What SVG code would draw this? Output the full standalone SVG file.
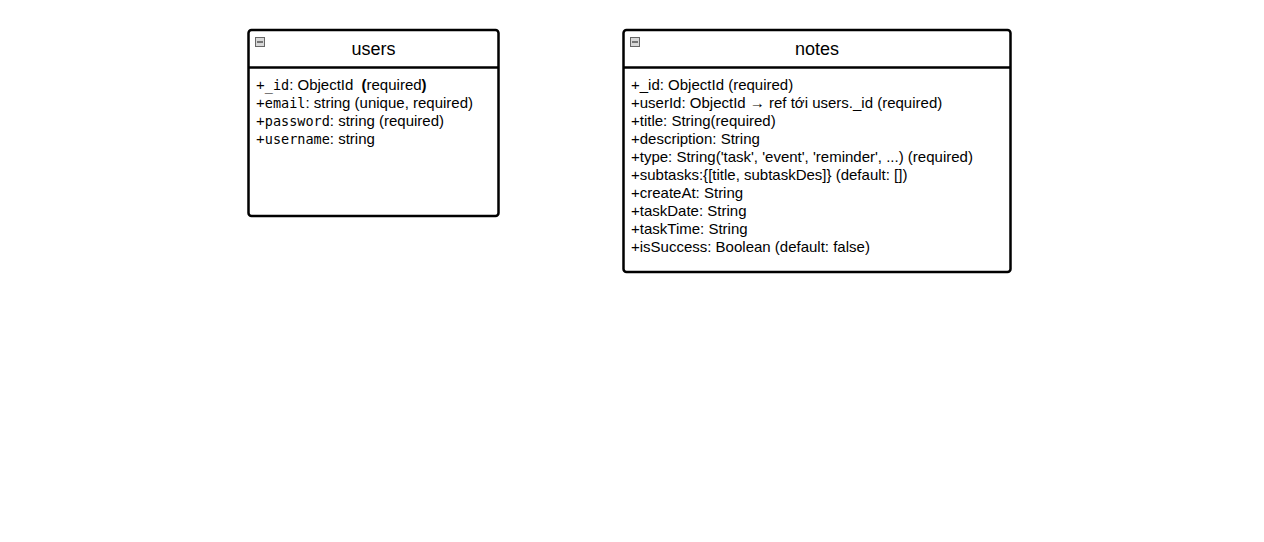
<svg xmlns="http://www.w3.org/2000/svg" width="1264" height="542" viewBox="0 0 1264 542">
<style>
.box{fill:#fff;stroke:#000;stroke-width:2.5}
.sep{stroke:#000;stroke-width:2.5}
.title{font-family:"Liberation Sans",Arial,sans-serif;font-size:18px;text-anchor:middle;fill:#000}
.attr{font-family:"Liberation Sans",Arial,sans-serif;font-size:15px;fill:#000}
.mono{font-family:"DejaVu Sans Mono","Liberation Mono",monospace;font-size:13.5px}
.icon{fill:#d8d8d8;stroke:#666;stroke-width:1}
</style>
<rect width="1264" height="542" fill="#fff"/>
<g id="users">
<rect class="box" x="248.5" y="30" width="250" height="186" rx="3"/>
<line class="sep" x1="248.5" y1="67.5" x2="498.5" y2="67.5"/>
<rect class="icon" x="255.5" y="37.5" width="9" height="9"/>
<line x1="257" y1="42" x2="263" y2="42" stroke="#333" stroke-width="1.2"/>
<text class="title" x="373.5" y="55">users</text>
<text class="attr" x="256" y="90">+<tspan class="mono">_id</tspan>: ObjectId <tspan dx="4" font-weight="bold">(</tspan>required<tspan font-weight="bold">)</tspan></text>
<text class="attr" x="256" y="108">+<tspan class="mono">email</tspan>: string (unique, required)</text>
<text class="attr" x="256" y="126">+<tspan class="mono">password</tspan>: string (required)</text>
<text class="attr" x="256" y="144">+<tspan class="mono">username</tspan>: string</text>
</g>
<g id="notes">
<rect class="box" x="623.5" y="30" width="387" height="242" rx="3"/>
<line class="sep" x1="623.5" y1="67.5" x2="1010.5" y2="67.5"/>
<rect class="icon" x="630.5" y="37.5" width="9" height="9"/>
<line x1="632" y1="42" x2="638" y2="42" stroke="#333" stroke-width="1.2"/>
<text class="title" x="817" y="55">notes</text>
<text class="attr" x="631" y="90">+_id: ObjectId (required)</text>
<text class="attr" x="631" y="108">+userId: ObjectId → ref tới users._id (required)</text>
<text class="attr" x="631" y="126">+title: String(required)</text>
<text class="attr" x="631" y="144">+description: String</text>
<text class="attr" x="631" y="162">+type: String('task', 'event', 'reminder', ...) (required)</text>
<text class="attr" x="631" y="180">+subtasks:{[title, subtaskDes]} (default: [])</text>
<text class="attr" x="631" y="198">+createAt: String</text>
<text class="attr" x="631" y="216">+taskDate: String</text>
<text class="attr" x="631" y="234">+taskTime: String</text>
<text class="attr" x="631" y="252">+isSuccess: Boolean (default: false)</text>
</g>
<g id="connectors"></g>
</svg>
